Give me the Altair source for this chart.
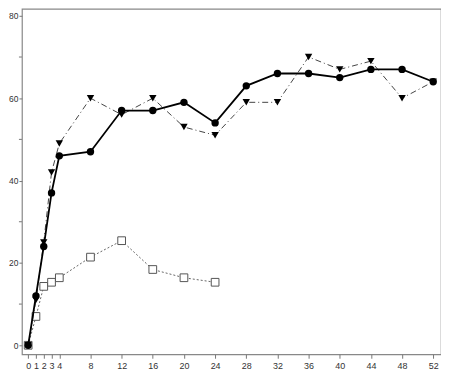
import altair as alt
import pandas as pd

x_circle = [0, 1, 2, 3, 4, 8, 12, 16, 20, 24, 28, 32, 36, 40, 44, 48, 52]
y_circle = [0, 12, 24, 37, 46, 47, 57, 57, 59, 54, 63, 66, 66, 65, 67, 67, 64]

x_tri = [0, 1, 2, 3, 4, 8, 12, 16, 20, 24, 28, 32, 36, 40, 44, 48, 52]
y_tri = [0, 11, 25, 42, 49, 60, 56, 60, 53, 51, 59, 59, 70, 67, 69, 60, 64]

x_sq = [0, 1, 2, 3, 4, 8, 12, 16, 20, 24]
y_sq = [0, 7, 14.3, 15.3, 16.4, 21.4, 25.4, 18.4, 16.4, 15.3]

x_ticks = [0, 1, 2, 3, 4, 8, 12, 16, 20, 24, 28, 32, 36, 40, 44, 48, 52]
y_ticks = [0, 20, 40, 60, 80]
y_minor = [10, 30, 50, 70]

df_c = pd.DataFrame({"x": x_circle, "y": y_circle})
df_t = pd.DataFrame({"x": x_tri, "y": y_tri})
df_s = pd.DataFrame({"x": x_sq, "y": y_sq})
df_m = pd.DataFrame({"y": y_minor})

xs = alt.Scale(domain=[-0.8, 53.0], nice=False, zero=False)
ys = alt.Scale(domain=[-2.18, 81.7], nice=False, zero=False)

xenc = alt.X("x:Q", scale=xs, axis=alt.Axis(values=x_ticks, title=None, grid=False,
                                             domain=False, tickSize=4, tickColor="#777",
                                             labelFontSize=9, labelColor="#333",
                                             labelPadding=3, labelFlush=False,
                                             labelOverlap=False))
yenc = alt.Y("y:Q", scale=ys, axis=alt.Axis(values=y_ticks, title=None, grid=False,
                                             domain=False, tickSize=3, tickColor="#777",
                                             labelFontSize=8.5, labelColor="#333",
                                             labelPadding=1, labelFlush=False,
                                             labelOverlap=False))

base_s = alt.Chart(df_s).encode(x=xenc, y=yenc)
base_t = alt.Chart(df_t).encode(x=xenc, y=yenc)
base_c = alt.Chart(df_c).encode(x=xenc, y=yenc)

sq_line = base_s.mark_line(color="#666", strokeWidth=1, strokeDash=[2, 2])
sq_pts = base_s.mark_point(shape="square", filled=False, fill="white", color="#555",
                           strokeWidth=1, size=60, opacity=1)

tri_line = base_t.mark_line(color="#444", strokeWidth=1, strokeDash=[6, 3, 1, 3])
tri_pts = base_t.mark_point(shape="triangle-down", filled=True, color="black",
                            size=55, opacity=1)

c_line = base_c.mark_line(color="black", strokeWidth=1.8)
c_pts = base_c.mark_point(shape="circle", filled=True, color="black",
                          size=55, opacity=1)

minor = alt.Chart(df_m).mark_rule(color="#777", strokeWidth=1).encode(
    x=alt.value(-3), x2=alt.value(0), y=yenc)

chart = alt.layer(sq_line, sq_pts, tri_line, tri_pts, c_line, c_pts, minor).properties(
    width=421, height=347,
    autosize=alt.AutoSizeParams(type="none"),
    padding={"left": 14, "top": 0, "right": 0, "bottom": 20},
).configure_view(stroke="#888", strokeWidth=1.2).configure_axis(
    labelFont="Liberation Sans", tickWidth=1, labelOverlap=False)

chart.save("out.html", embed_options={"renderer": "svg", "actions": False})
